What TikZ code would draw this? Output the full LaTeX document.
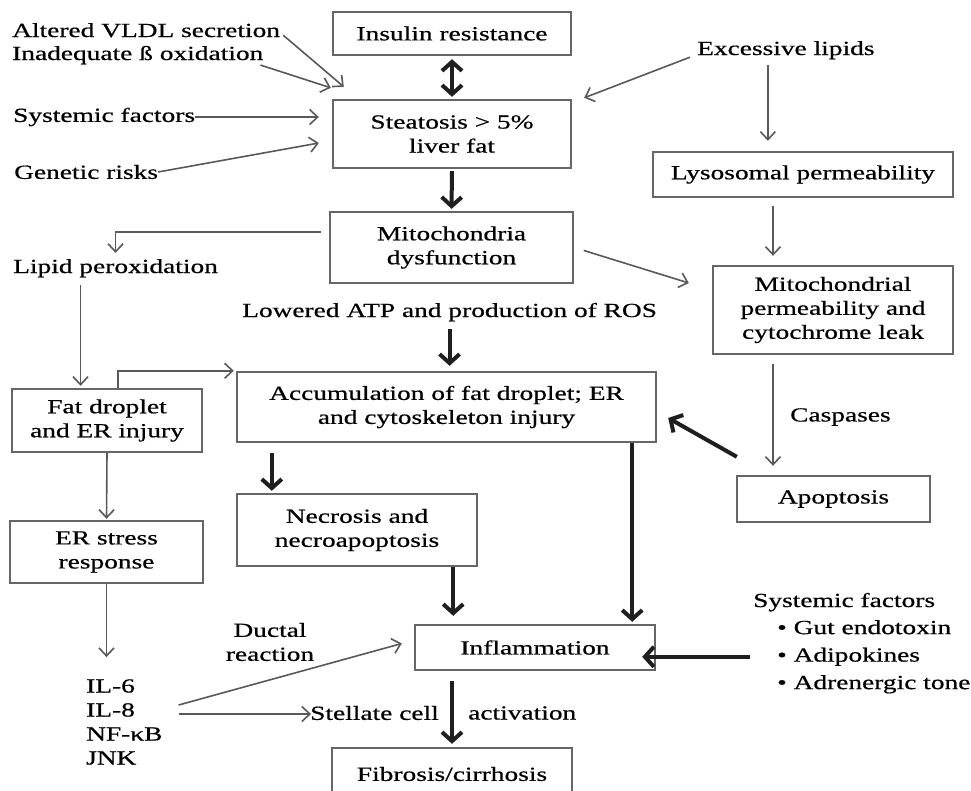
\documentclass[tikz,border=0pt]{standalone}
\usepackage{fontspec}
\setmainfont{Liberation Serif}[FakeStretch=1.37,FakeBold=0.6]
\usetikzlibrary{arrows.meta}
\newcommand\diagfont{\fontsize{20pt}{24pt}\selectfont}
\begin{document}
\begin{tikzpicture}[x=1pt,y=-1pt,
  box/.style={draw=black!60, line width=2.4pt, fill=white, align=center, inner sep=2pt, font=\diagfont},
  lbl/.style={inner sep=0pt, font=\diagfont},
  tarrow/.style={draw=black!65, line width=1.6pt, -{Straight Barb[length=8pt,width=15pt]}},
  karrow/.style={draw=black!88, line width=4pt, -{Straight Barb[length=9pt,width=20pt]}},
  kboth/.style={draw=black!88, line width=4pt, {Straight Barb[length=9pt,width=20pt]}-{Straight Barb[length=9pt,width=20pt]}}]
\useasboundingbox[fill=white] (0,0) rectangle (971,790);

% boxes
\node[box, minimum width=238pt, minimum height=43pt] (ins) at (452,33.5) {Insulin resistance};
\node[box, minimum width=238pt, minimum height=68pt] (ste) at (452,134) {Steatosis > 5\%\\liver fat};
\node[box, minimum width=243pt, minimum height=71pt] (mit) at (451.5,247.5) {Mitochondria\\dysfunction};
\node[box, minimum width=300pt, minimum height=45pt] (lys) at (803,174.5) {Lysosomal permeability};
\node[box, minimum width=240pt, minimum height=88pt] (mpm) at (833,310) {Mitochondrial\\permeability and\\cytochrome leak};
\node[box, minimum width=419pt, minimum height=70pt] (acc) at (446.5,407) {Accumulation of fat droplet; ER\\and cytoskeleton injury};
\node[box, minimum width=190pt, minimum height=63pt] (fat) at (107,420.5) {Fat droplet\\and ER injury};
\node[box, minimum width=193pt, minimum height=46pt] (apo) at (833.5,499) {Apoptosis};
\node[box, minimum width=240pt, minimum height=72pt] (nec) at (357,530) {Necrosis and\\necroapoptosis};
\node[box, minimum width=193pt, minimum height=62pt] (ers) at (106.5,552) {ER stress\\response};
\node[box, minimum width=240pt, minimum height=45pt] (inf) at (535,647.5) {Inflammation};
\node[box, minimum width=240pt, minimum height=52pt] (fib) at (452,774) {Fibrosis/cirrhosis};

% labels
\node[lbl, anchor=base west] (alt) at (12,37) {Altered VLDL secretion};
\node[lbl, anchor=base west] (inad) at (12,60) {Inadequate ß oxidation};
\node[lbl, anchor=west] (sysA) at (13,117) {Systemic factors};
\node[lbl, anchor=west] (gen) at (14,172) {Genetic risks};
\node[lbl, anchor=base west] (exc) at (697,55) {Excessive lipids};
\node[lbl, anchor=base west] (lip) at (13,273) {Lipid peroxidation};
\node[lbl, anchor=base west] (low) at (242,317) {Lowered ATP and production of ROS};
\node[lbl, anchor=west] (casp) at (790,417) {Caspases};
\node[lbl, align=center] (duct) at (270,642) {Ductal\\reaction};
\node[lbl, align=left, anchor=west] (il) at (86,722) {IL-6\\IL-8\\NF-κB\\JNK};
\node[lbl, anchor=west] (stel) at (310,713) {Stellate cell};
\node[lbl, anchor=west] (act) at (468,713) {activation};
\node[lbl, anchor=base west] (sysB) at (753,607) {Systemic factors};
\node[lbl, align=left, anchor=north west] (bul) at (777,620) {• Gut endotoxin\\[3.5pt]• Adipokines\\[3.5pt]• Adrenergic tone};

% thin connectors
\draw[tarrow] ([shift={(3pt,-5pt)}]alt.east) -- ([shift={(12pt,12pt)}]ste.north west);
\draw[tarrow] ([shift={(-3pt,-10pt)}]inad.east) -- ([shift={(-1pt,11pt)}]ste.north west);
\draw[tarrow, shorten >=13pt] (sysA.east) -- (sysA.east -| ste.west);
\draw[tarrow] (gen.east) -- ([shift={(-13pt,-9pt)}]ste.west);
\draw[tarrow] ([shift={(-7pt,-7pt)}]exc.west) -- ([shift={(12pt,1pt)}]ste.north east);
\draw[tarrow, shorten <=6pt, shorten >=10pt] ([xshift=-18pt]exc.south) -- ([xshift=-18pt]exc.south |- lys.north);
\draw[tarrow, shorten <=8pt, shorten >=6pt] ([yshift=15.5pt]mit.west) -| (lip.north);
\draw[tarrow, shorten <=8pt, shorten >=2pt] ([xshift=-35pt]lip.south) -- ([xshift=-35pt]lip.south |- fat.north);
\draw[tarrow, shorten >=2pt] ([xshift=11pt]fat.north) |- (acc.north west);
\draw[tarrow, shorten <=10pt] (mit.east) -- ([shift={(-23pt,27pt)}]mpm.west);
\draw[tarrow, shorten <=8pt, shorten >=9pt] ([xshift=-30pt]lys.south) -- ([xshift=-30pt]lys.south |- mpm.north);
\draw[tarrow, shorten <=9pt, shorten >=9pt] ([xshift=-60pt]mpm.south) -- ([xshift=-60pt]mpm.south |- apo.north);
\draw[tarrow, shorten >=1pt] (fat.south) -- (ers.north);
\draw[tarrow, shorten >=22pt] (ers.south) -- (ers.south |- il.north);
\draw[tarrow] ([shift={(16pt,17pt)}]il.east) -- ([shift={(-12pt,4pt)}]inf.west);
\draw[tarrow, shorten >=15pt] ([shift={(16pt,8pt)}]il.east) -- ([shift={(16pt,8pt)}]il.east -| stel.west);

% thick connectors
\draw[kboth, shorten <=3pt, shorten >=2pt] (ins.south) -- (ste.north);
\draw[karrow, shorten <=2pt, shorten >=2pt] (ste.south) -- (mit.north);
\draw[karrow, shorten <=8pt, shorten >=5pt] (low.south) -- (low.south |- acc.north);
\draw[karrow] ([shift={(1pt,18pt)}]apo.north west) -- ([shift={(11pt,-11pt)}]acc.east);
\draw[karrow, shorten <=10pt, shorten >=2pt] ([xshift=36pt]acc.south west) -- ([xshift=36pt]acc.south west |- nec.north);
\draw[karrow, shorten >=2pt] ([xshift=-25pt]acc.south east) -- ([xshift=-25pt]acc.south east |- inf.north);
\draw[karrow, shorten >=8pt] ([xshift=-25pt]nec.south east) -- ([xshift=-25pt]nec.south east |- inf.north);
\draw[karrow, shorten <=10pt, shorten >=3pt] (fib.north |- inf.south) -- (fib.north);
\draw[karrow, shorten >=13pt] ([xshift=-27pt]bul.west) -- ([xshift=-27pt]bul.west -| inf.east);
\end{tikzpicture}
\end{document}
